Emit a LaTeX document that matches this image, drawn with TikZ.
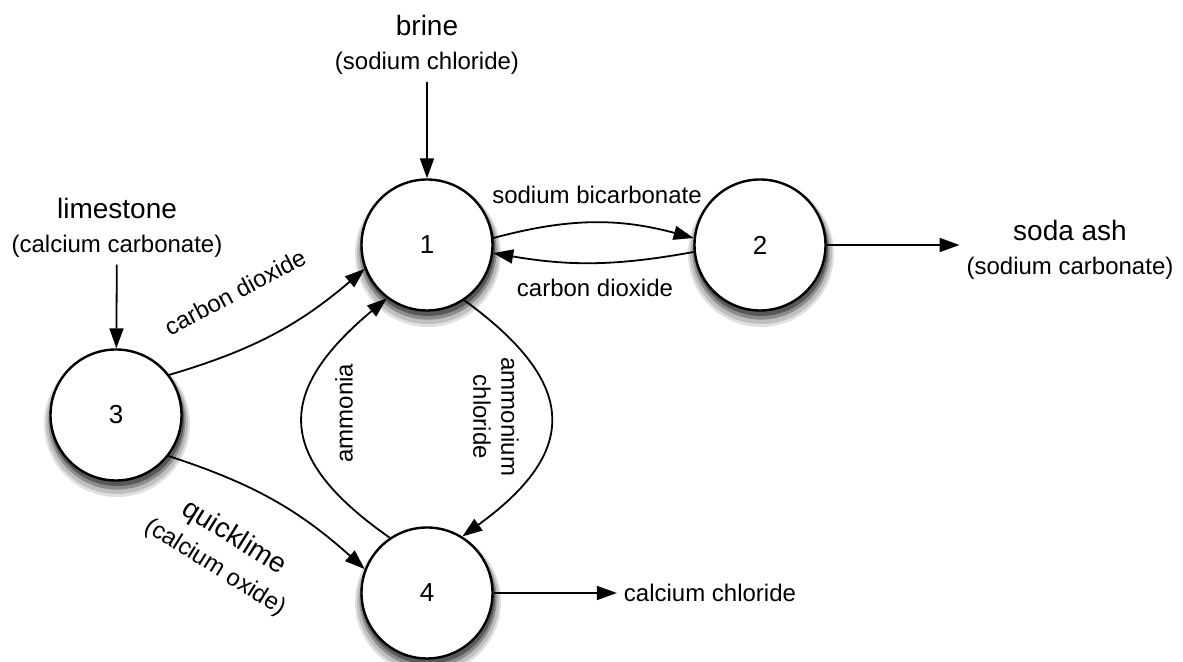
\documentclass[tikz,border=0pt]{standalone}
\usepackage{fontspec}
\setmainfont{Liberation Sans}
\usetikzlibrary{shapes}
\usetikzlibrary{arrows.meta}

\begin{document}
\begin{tikzpicture}[x=0.5pt,y=0.5pt,
		stage/.style={circle,draw,line width=1.2pt,minimum size=65.5pt,inner sep=0pt,fill=white,
			font=\fontsize{13}{15}\selectfont},
		flow/.style={-{Triangle[length=10pt,width=7pt]},line width=0.9pt},
		feed/.style={align=center,font=\fontsize{14}{17}\selectfont},
		tag/.style={align=center,font=\fontsize{12}{14}\selectfont}]
	\useasboundingbox (0,0) rectangle (1183,662);

	\coordinate (c1) at (427,417);
	\coordinate (c2) at (760,417);
	\coordinate (c3) at (116,247);
	\coordinate (c4) at (427,69);
	\foreach \c in {c1,c2,c3,c4}{
		\fill[black!12] ([shift={(1,-9)}]\c) circle (36.5pt);
		\fill[black!25] ([shift={(1,-8)}]\c) circle (35.5pt);
		\fill[black!45] ([shift={(1,-6)}]\c) circle (34.3pt);
		\fill[black!65] ([shift={(1,-4)}]\c) circle (33.5pt);
	}

	\node[stage] (n1) at (c1) {1};
	\node[stage] (n2) at (c2) {2};
	\node[stage] (n3) at (c3) {3};
	\node[stage] (n4) at (c4) {4};

	\node[feed] (brine) at (427,617) {brine\\{\fontsize{12}{14}\selectfont (sodium chloride)}};
	\node[feed] (lime) at (117,434) {limestone\\{\fontsize{12}{14}\selectfont (calcium carbonate)}};
	\node[feed] (soda) at (1070,412) {soda ash\\{\fontsize{12}{14}\selectfont (sodium carbonate)}};
	\node[tag] (cacl) at (710,69) {calcium chloride};

	\node[tag] (lbicarb) at (597,467) {sodium bicarbonate};
	\node[tag] (lcotwo) at (595,374) {carbon dioxide};
	\node[tag,rotate=28] (lcothree) at (235,370) {carbon dioxide};
	\node[feed,rotate=-32] (lquick) at (225,110) {quicklime\\{\fontsize{12}{14}\selectfont (calcium oxide)}};
	\node[tag,rotate=90] (lammonia) at (344,249) {ammonia};
	\node[tag,rotate=-90] (lammcl) at (496,245) {ammonium\\chloride};

	\draw[flow] (brine) -- (n1);
	\draw[flow] (lime) -- (n3);
	\draw[flow] (n2.east) -- (n2.east -| soda.west);
	\draw[flow] (n4.east) -- (cacl.west);
	\draw[flow] (n1.6) to[bend left=15] (n2.174);
	\draw[flow] (n2.186) to[bend left=10] (n1.-7);
	\draw[flow] (n3.37) to[bend right=12] (n1.201);
	\draw[flow] (n3.-38) to[bend left=12] (n4.159);
	\draw[flow] (n4.124) to[out=145,in=220,looseness=1.53] (n1.233);
	\draw[flow] (n1.-56) to[out=-36,in=36,looseness=1.55] (n4.58);
\end{tikzpicture}
\end{document}
